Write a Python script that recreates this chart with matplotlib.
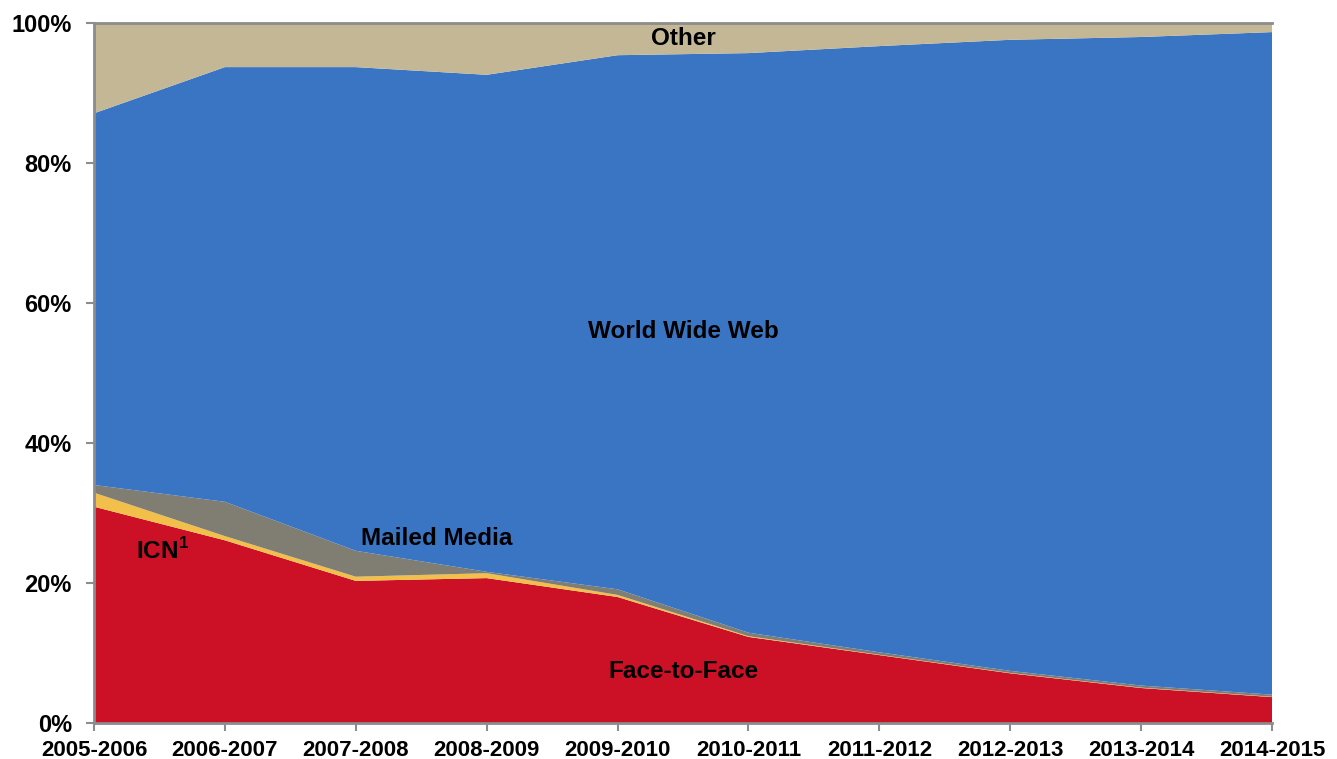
import matplotlib.pyplot as plt
import numpy as np

plt.rcParams['font.family'] = ['Liberation Sans', 'DejaVu Sans']
plt.rcParams['mathtext.fontset'] = 'custom'
plt.rcParams['mathtext.bf'] = 'Liberation Sans:bold'

years = ['2005-2006', '2006-2007', '2007-2008', '2008-2009', '2009-2010',
         '2010-2011', '2011-2012', '2012-2013', '2013-2014', '2014-2015']

# shares in percent
face_to_face = [30.9, 26.1, 20.3, 20.7, 18.0, 12.3, 9.7, 7.1, 5.0, 3.7]
icn = [2.0, 0.6, 0.6, 0.7, 0.3, 0.1, 0.05, 0.05, 0.05, 0.05]
mailed_media = [1.1, 4.9, 3.7, 0.2, 0.8, 0.5, 0.35, 0.3, 0.3, 0.3]
www_top = [87.1, 93.7, 93.7, 92.6, 95.4, 95.7, 96.7, 97.6, 98.0, 98.7]

below = np.array(face_to_face) + np.array(icn) + np.array(mailed_media)
world_wide_web = list(np.array(www_top) - below)
other = list(100 - np.array(www_top))

colors = ['#CC1126', '#F2C04A', '#807D73', '#3A75C4', '#C4B796']

fig = plt.figure(figsize=(13.37, 7.59), dpi=100)
ax = fig.add_axes([94 / 1337, 36 / 759, 1178 / 1337, 700 / 759])

x = np.arange(len(years))
ax.stackplot(x, face_to_face, icn, mailed_media, world_wide_web, other,
             colors=colors, linewidth=0)

ax.set_xlim(0, len(years) - 1)
ax.set_ylim(0, 100)
ax.set_xticks(x)
ax.set_xticklabels(years, fontsize=16, fontweight='bold')
ax.set_yticks([0, 20, 40, 60, 80, 100])
ax.set_yticklabels(['0%', '20%', '40%', '60%', '80%', '100%'], fontsize=17, fontweight='bold')

for s in ['left', 'bottom', 'top']:
    ax.spines[s].set_color('#8C8C8C')
    ax.spines[s].set_linewidth(2)
ax.spines['right'].set_visible(False)
ax.tick_params(axis='both', colors='#8C8C8C', length=6, width=1.5, direction='out', labelcolor='black')
ax.tick_params(axis='x', pad=6)
ax.tick_params(axis='y', pad=10)

lab = dict(fontsize=17.5, fontweight='bold', ha='center', va='center', color='black')
ax.text(4.5, 97.8, 'Other', **lab)
ax.text(4.5, 56.0, 'World Wide Web', **lab)
ax.text(2.62, 26.4, 'Mailed Media', **lab)
ax.text(0.52, 24.6, r'ICN$^\mathbf{1}$', **lab)
ax.text(4.5, 7.4, 'Face-to-Face', **lab)

fig.savefig('out.png', dpi=100)
